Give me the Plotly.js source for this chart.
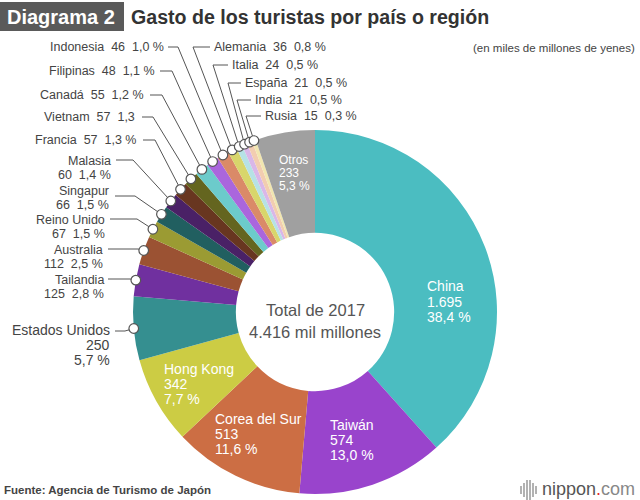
<!DOCTYPE html>
<html>
<head>
<meta charset="utf-8">
<script src="https://cdn.plot.ly/plotly-3.0.1.min.js"></script>
<style>
html,body{margin:0;padding:0;background:#fff;}
#chart{width:640px;height:500px;}
</style>
</head>
<body>
<div id="chart"></div>
<script>
// ---- data ----
const countries = ['China','Taiwán','Corea del Sur','Hong Kong','Estados Unidos','Tailandia','Australia','Reino Unido','Singapur','Malasia','Francia','Vietnam','Canadá','Filipinas','Indonesia','Alemania','Italia','España','India','Rusia','Otros'];
const spending = [1695,574,513,342,250,125,112,67,66,60,57,57,55,48,46,36,24,21,21,15,233];
const shares = ['38,4','13,0','11,6','7,7','5,7','2,8','2,5','1,5','1,5','1,4','1,3','1,3','1,2','1,1','1,0','0,8','0,5','0,5','0,5','0,3','5,3'];
const sliceColors = ['#4bbdc1','#9944cc','#cc6e44','#cccc44','#358f90','#70309f','#9b5233','#9b9b33','#215f60','#4a2166','#683620','#64651f','#6ccbcb','#aa66dd','#da8a68','#d8d66b','#b6e2e5','#d9b7e8','#f2cdb0','#f1e6b0','#a0a0a0'];
const totalYear = '2017';
const totalText = '4.416';

// ---- geometry (pixels) ----
const W = 640, H = 500;
const cx = 315, cy = 312, R = 182;
const NB = '\u00a0';
const fmt = v => v >= 1000 ? Math.floor(v/1000) + '.' + String(v % 1000).padStart(3,'0') : String(v);

// outside label placement: side 'L' = text to the left of the line, 'R' = text to the right
const outside = {
  'Estados Unidos': {side:'L', tx:111, ty:330, ly:331, ls:115, ex:125, size:14, split:3, gap:15},
  'Tailandia':      {side:'L', tx:105, ty:280, ly:279, ls:108, ex:130, split:2},
  'Australia':      {side:'L', tx:104, ty:250, ly:249, ls:108, ex:138, split:2},
  'Reino Unido':    {side:'L', tx:106, ty:220, ly:219, ls:110, ex:137, split:2},
  'Singapur':       {side:'L', tx:110, ty:191, ly:196, ls:115, ex:135, split:2},
  'Malasia':        {side:'L', tx:112, ty:161, ly:160, ls:116, ex:133, split:2},
  'Francia':        {side:'L', tx:137, ty:140, ly:140, ls:143, ex:155},
  'Vietnam':        {side:'L', tx:136, ty:117, ly:117, ls:142, ex:153, noPct:true},
  'Canadá':         {side:'L', tx:145, ty:95,  ly:95,  ls:150, ex:162},
  'Filipinas':      {side:'L', tx:156, ty:71,  ly:71,  ls:160, ex:172},
  'Indonesia':      {side:'L', tx:165, ty:47,  ly:47,  ls:168, ex:178},
  'Alemania':       {side:'R', tx:213, ty:47,  ly:47,  ex:193},
  'Italia':         {side:'R', tx:231, ty:65,  ly:65,  ex:213},
  'España':         {side:'R', tx:244, ty:83,  ly:83,  ex:228},
  'India':          {side:'R', tx:254, ty:100, ly:100, ex:237},
  'Rusia':          {side:'R', tx:264, ty:116, ly:116, ex:246}
};
// inside labels
const inside = {
  'China':         {x:426, y:286, gap:15.5, size:14},
  'Taiwán':        {x:329, y:425, gap:15, size:14},
  'Corea del Sur': {x:214, y:419, gap:15, size:14},
  'Hong Kong':     {x:163, y:369, gap:15, size:14},
  'Otros':         {x:278, y:160, gap:13, size:12}
};

const total = spending.reduce((a,b)=>a+b,0);
const shapes = [];
const circles = [];
const annotations = [];
const lineColor = '#555';
const FF = 'Liberation Sans, Arial, sans-serif';

// title
shapes.push({type:'rect', xref:'x', yref:'y', x0:0, x1:124, y0:2, y1:31, fillcolor:'#5a5a5a', line:{width:0}, layer:'above'});
annotations.push({xref:'x', yref:'y', x:5, y:17, xanchor:'left', yanchor:'middle', showarrow:false,
  text:'<b>Diagrama 2</b>', font:{family:FF, size:20, color:'#fff'}});
annotations.push({xref:'x', yref:'y', x:129, y:17, xanchor:'left', yanchor:'middle', showarrow:false,
  text:'<b>Gasto de los turistas por país o región</b>', font:{family:FF, size:19.6, color:'#333'}});
annotations.push({xref:'x', yref:'y', x:637, y:48, xanchor:'right', yanchor:'middle', showarrow:false,
  text:'(en miles de millones de yenes)', font:{family:FF, size:11.5, color:'#444'}});

// center text
annotations.push({xref:'x', yref:'y', x:cx, y:310, xanchor:'center', yanchor:'middle', showarrow:false,
  text:'Total de ' + totalYear, font:{family:FF, size:16.5, color:'#555'}});
annotations.push({xref:'x', yref:'y', x:cx, y:332, xanchor:'center', yanchor:'middle', showarrow:false,
  text:totalText + ' mil millones', font:{family:FF, size:16.5, color:'#555'}});

let cum = 0;
countries.forEach((c, i) => {
  const v = spending[i];
  const th = 2*Math.PI*(cum + v/2)/total;
  cum += v;
  const mx = cx + R*Math.sin(th);
  const my = cy - R*Math.cos(th);
  const o = outside[c];
  if (o) {
    const pct = shares[i] + (o.noPct ? '' : NB + '%');
    let lines;
    if (o.split === 3) lines = [c, fmt(v), shares[i] + NB + '%'];
    else if (o.split === 2) lines = [c, fmt(v) + NB + NB + pct];
    else lines = [c + NB + NB + fmt(v) + NB + NB + pct];
    const size = o.size || 12.5;
    const gap = o.gap || 13.5;
    lines.forEach((t, k) => {
      annotations.push({xref:'x', yref:'y', x:o.tx, y:o.ty + k*gap,
        xanchor: o.side === 'L' ? 'right' : 'left', yanchor:'middle', showarrow:false,
        align: o.side === 'L' ? 'right' : 'left', borderpad:0,
        text:t, font:{family:FF, size:size, color:'#444'}});
    });
    const sx = o.side === 'L' ? o.ls : o.tx - 3;
    shapes.push({type:'path', xref:'x', yref:'y', layer:'above',
      path:`M${sx},${o.ly} L${o.ex},${o.ly} L${mx.toFixed(2)},${my.toFixed(2)}`,
      line:{color:lineColor, width:1}});
    circles.push({type:'circle', xref:'x', yref:'y', layer:'above',
      x0:mx-4.8, x1:mx+4.8, y0:my-4.8, y1:my+4.8, fillcolor:'#fff', line:{color:lineColor, width:1.2}});
  }
  const ins = inside[c];
  if (ins) {
    [c, fmt(v), shares[i] + NB + '%'].forEach((t, k) => {
      annotations.push({xref:'x', yref:'y', x:ins.x, y:ins.y + k*ins.gap, xanchor:'left', yanchor:'middle',
        showarrow:false, borderpad:0, text:t,
        font:{family:FF, size:ins.size, color:'#fff'}});
    });
  }
});

// footer
annotations.push({xref:'x', yref:'y', x:2, y:490, xanchor:'left', yanchor:'middle', showarrow:false,
  text:'<b>Fuente: Agencia de Turismo de Japón</b>', font:{family:FF, size:11.5, color:'#444'}});
annotations.push({xref:'x', yref:'y', x:637, y:489, xanchor:'right', yanchor:'middle', showarrow:false,
  text:'<span style="color:#555">nippon</span><span style="color:#e8262b">.</span><span style="color:#888">com</span>',
  font:{family:FF, size:18, color:'#555'}});
// logo bars
[[521,4],[524,7],[527,10],[530,10],[533,7],[536,4]].forEach(b => {
  shapes.push({type:'line', xref:'x', yref:'y', layer:'above', x0:b[0], x1:b[0], y0:490-b[1], y1:490+b[1],
    line:{color:'#999', width:1.5}});
});

const pie = {
  type:'pie', labels:countries, values:spending, sort:false, direction:'clockwise', rotation:0,
  hole:0.435, textinfo:'none', hoverinfo:'label+value+percent',
  marker:{colors:sliceColors, line:{width:0}},
  domain:{x:[(cx-R)/W, (cx+R)/W], y:[(H-cy-R)/H, (H-cy+R)/H]},
  showlegend:false
};
const dummy = {type:'scatter', x:[0,W], y:[0,H], mode:'markers', marker:{opacity:0}, hoverinfo:'skip', showlegend:false};

const layout = {
  width:W, height:H, margin:{l:0,r:0,t:0,b:0}, paper_bgcolor:'#fff', plot_bgcolor:'rgba(0,0,0,0)',
  showlegend:false,
  xaxis:{range:[0,W], domain:[0,1], visible:false, fixedrange:true},
  yaxis:{range:[H,0], domain:[0,1], visible:false, fixedrange:true},
  shapes: shapes.concat(circles),
  annotations: annotations,
  font:{family:FF}
};
Plotly.newPlot('chart', [dummy, pie], layout, {displayModeBar:false, staticPlot:true});
</script>
</body>
</html>
